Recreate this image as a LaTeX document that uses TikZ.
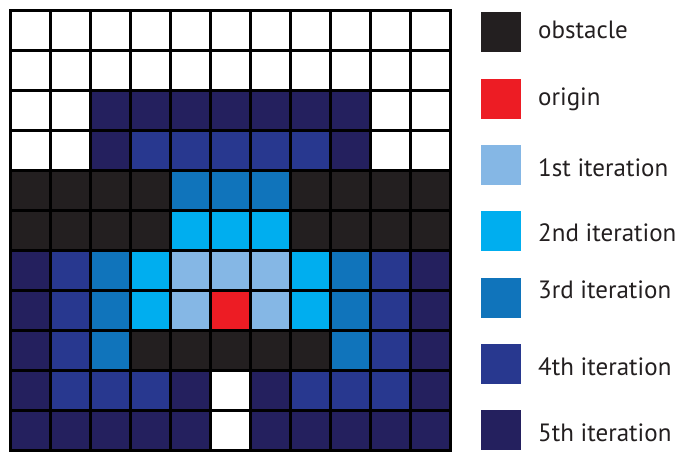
\documentclass[tikz,border=0pt]{standalone}
\usepackage{fontspec}
\setmainfont{PT Sans}
\usetikzlibrary{positioning}
\definecolor{cW}{HTML}{FFFFFF}
\definecolor{cK}{HTML}{231F20}
\definecolor{cR}{HTML}{ED1C24}
\definecolor{c1}{HTML}{85B7E5}
\definecolor{c2}{HTML}{00AEEF}
\definecolor{c3}{HTML}{1074BB}
\definecolor{c4}{HTML}{28388F}
\definecolor{c5}{HTML}{24205E}
\tikzset{
  cell/.style={rectangle,draw=black,line width=2.6pt,minimum size=40pt,inner sep=0pt,outer sep=0pt},
  key/.style={rectangle,minimum size=40pt,inner sep=0pt},
  keylab/.style={anchor=base west,inner sep=0pt,text=cK,font=\fontsize{25}{30}\selectfont}
}

\begin{document}
\begin{tikzpicture}[x=1pt,y=-1pt]
  \useasboundingbox (0,0) rectangle (681,451);
  \foreach \rowlist [count=\r from 0] in {
    {W,W,W,W,W,W,W,W,W,W,W},
    {W,W,W,W,W,W,W,W,W,W,W},
    {W,W,5,5,5,5,5,5,5,W,W},
    {W,W,5,4,4,4,4,4,5,W,W},
    {K,K,K,K,3,3,3,K,K,K,K},
    {K,K,K,K,2,2,2,K,K,K,K},
    {5,4,3,2,1,1,1,2,3,4,5},
    {5,4,3,2,1,R,1,2,3,4,5},
    {5,4,3,K,K,K,K,K,3,4,5},
    {5,4,4,4,5,W,5,4,4,4,5},
    {5,5,5,5,5,W,5,5,5,5,5}}
    \foreach \v [count=\c from 0] in \rowlist
      \node[cell,fill=c\v] (cell-\r-\c) at (30.5+40*\c,30.5+40*\r) {};
  \draw[line width=3pt] (cell-0-0.north west) rectangle (cell-10-10.south east);

  \node[key,fill=cK] (k-obst) at (501,32) {};
  \node[key,fill=cR] (k-orig) at (501,99) {};
  \node[key,fill=c1] (k-it1) at (501,165) {};
  \node[key,fill=c2] (k-it2) at (501,231) {};
  \node[key,fill=c3] (k-it3) at (501,298) {};
  \node[key,fill=c4] (k-it4) at (501,364) {};
  \node[key,fill=c5] (k-it5) at (501,430) {};
  \node[keylab] (l-obst) at (538,38) {obstacle};
  \node[keylab] (l-orig) at (538,105) {origin};
  \node[keylab] (l-it1) at (538,176.5) {1st iteration};
  \node[keylab] (l-it2) at (538,241.5) {2nd iteration};
  \node[keylab] (l-it3) at (538,298.5) {3rd iteration};
  \node[keylab] (l-it4) at (538,375.5) {4th iteration};
  \node[keylab] (l-it5) at (538,441) {5th iteration};
\end{tikzpicture}
\end{document}
